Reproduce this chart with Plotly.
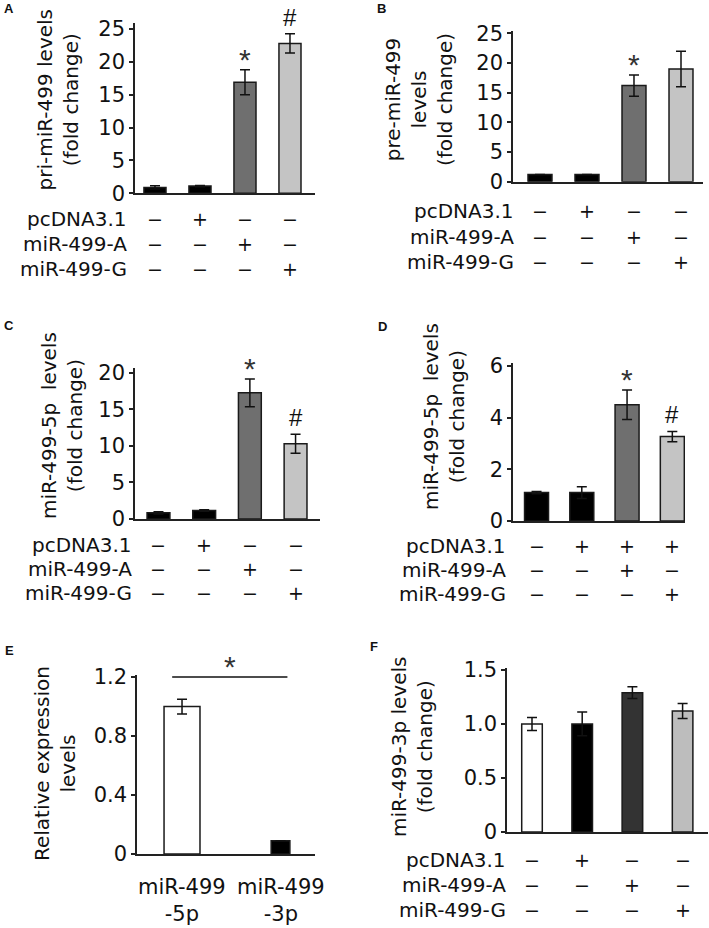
import plotly.graph_objects as go

W, H = 709, 928
FONT = "DejaVu Sans, Liberation Sans, Arial, sans-serif"
STAR_FONT = "Liberation Sans, Arial, sans-serif"
INK = "#111111"

# ---------------- data ----------------
row_labels = ["pcDNA3.1", "miR-499-A", "miR-499-G"]

# Panel A: pri-miR-499
a_vals = [0.9, 1.1, 16.9, 22.8]
a_err = [0.25, 0.1, 1.9, 1.45]
a_ticks = [0, 5, 10, 15, 20, 25]
a_signs = [["−", "+", "−", "−"], ["−", "−", "+", "−"], ["−", "−", "−", "+"]]
a_marks = ["", "", "*", "#"]

# Panel B: pre-miR-499
b_vals = [1.2, 1.2, 16.2, 19.0]
b_err = [0.0, 0.0, 1.8, 3.0]
b_ticks = [0, 5, 10, 15, 20, 25]
b_signs = [["−", "+", "−", "−"], ["−", "−", "+", "−"], ["−", "−", "−", "+"]]
b_marks = ["", "", "*", ""]

# Panel C: miR-499-5p
c_vals = [0.85, 1.15, 17.25, 10.3]
c_err = [0.15, 0.1, 1.9, 1.3]
c_ticks = [0, 5, 10, 15, 20]
c_signs = [["−", "+", "−", "−"], ["−", "−", "+", "−"], ["−", "−", "−", "+"]]
c_marks = ["", "", "*", "#"]

# Panel D: miR-499-5p (with pcDNA3.1 background)
d_vals = [1.1, 1.1, 4.5, 3.27]
d_err = [0.04, 0.23, 0.57, 0.2]
d_ticks = [0, 2, 4, 6]
d_signs = [["−", "+", "+", "+"], ["−", "−", "+", "−"], ["−", "−", "−", "+"]]
d_marks = ["", "", "*", "#"]

# Panel E: relative expression 5p vs 3p
e_cats = ["miR-499<br>-5p", "miR-499<br>-3p"]
e_vals = [1.0, 0.09]
e_err = [0.05, 0.0]
e_ticks = [0, 0.4, 0.8, 1.2]
e_ticktext = ["0", "0.4", "0.8", "1.2"]
e_sig_level = 1.2

# Panel F: miR-499-3p
f_vals = [1.0, 1.0, 1.29, 1.12]
f_err = [0.06, 0.11, 0.055, 0.07]
f_ticks = [0, 0.5, 1.0, 1.5]
f_ticktext = ["0", "0.5", "1.0", "1.5"]
f_signs = [["−", "+", "−", "−"], ["−", "−", "+", "−"], ["−", "−", "−", "+"]]

# ---------------- styles / layout geometry (pixels) ----------------
gray4 = ["#000000", "#000000", "#6f6f6f", "#c4c4c4"]
f_colors = ["#ffffff", "#000000", "#333333", "#bdbdbd"]
e_colors = ["#ffffff", "#000000"]

panels = [
    dict(key="A", vals=a_vals, err=a_err, ticks=a_ticks, ticktext=None, colors=gray4,
         px=(135, 315), py=(193.3, 23), yr=25.9, xr=(-0.444, 3.556), bw=0.49,
         title="pri-miR-499 levels<br>(fold change)", tpos=(57.5, 100),
         signs=a_signs, marks=a_marks, rows=(219, 244, 269), rx=128, lab=(9, 9)),
    dict(key="B", vals=b_vals, err=b_err, ticks=b_ticks, ticktext=None, colors=gray4,
         px=(513, 703), py=(181.7, 31), yr=25.4, xr=(-0.574, 3.468), bw=0.51,
         title="pre-miR-499<br>levels<br>(fold change)", tpos=(419, 100),
         signs=b_signs, marks=b_marks, rows=(211, 237, 262), rx=515, lab=(381, 9)),
    dict(key="C", vals=c_vals, err=c_err, ticks=c_ticks, ticktext=None, colors=gray4,
         px=(135, 320), py=(519, 368), yr=20.65, xr=(-0.514, 3.535), bw=0.5,
         title="miR-499-5p  levels<br>(fold change)", tpos=(62, 426),
         signs=c_signs, marks=c_marks, rows=(545, 569, 593), rx=133, lab=(9, 325)),
    dict(key="D", vals=d_vals, err=d_err, ticks=d_ticks, ticktext=None, colors=gray4,
         px=(513, 685), py=(521, 363), yr=6.12, xr=(-0.52, 3.28), bw=0.53,
         title="miR-499-5p  levels<br>(fold change)", tpos=(444, 417),
         signs=d_signs, marks=d_marks, rows=(546, 570, 594), rx=507, lab=(382, 327)),
    dict(key="E", vals=e_vals, err=e_err, ticks=e_ticks, ticktext=e_ticktext, colors=e_colors,
         px=(137, 315), py=(854, 675), yr=1.214, xr=(-0.457, 1.35), bw=[0.365, 0.19],
         title="Relative expression<br>levels", tpos=(55, 764),
         signs=None, marks=None, rows=None, rx=None, lab=(9, 650)),
    dict(key="F", vals=f_vals, err=f_err, ticks=f_ticks, ticktext=f_ticktext, colors=f_colors,
         px=(507, 708), py=(832, 668), yr=1.518, xr=(-0.498, 3.506), bw=0.41,
         title="miR-499-3p levels<br>(fold change)", tpos=(412, 747),
         signs=f_signs, marks=None, rows=(860, 885, 910), rx=507, lab=(374, 646)),
]

def px2x(p):
    return p / W

def py2y(p):
    return 1 - p / H

fig = go.Figure()
annotations = []
shapes = []
layout = {}

for i, p in enumerate(panels, start=1):
    xa = "x" if i == 1 else f"x{i}"
    ya = "y" if i == 1 else f"y{i}"
    xkey = "xaxis" if i == 1 else f"xaxis{i}"
    ykey = "yaxis" if i == 1 else f"yaxis{i}"
    n = len(p["vals"])
    xs = list(range(n))
    fig.add_trace(go.Bar(
        x=xs, y=p["vals"], width=p["bw"], xaxis=xa, yaxis=ya,
        marker=dict(color=p["colors"], line=dict(color="#1a1a1a", width=1.5)),
        error_y=dict(type="data", array=p["err"], visible=True, color=INK,
                     thickness=1.5, width=5),
        hoverinfo="skip",
    ))
    layout[xkey] = dict(
        domain=[px2x(p["px"][0]), px2x(p["px"][1])], anchor=ya, automargin=False,
        range=list(p["xr"]), showline=True, linecolor="#222", linewidth=1.5,
        ticks="", showticklabels=False, showgrid=False, zeroline=False, fixedrange=True,
    )
    yax = dict(
        domain=[py2y(p["py"][0]), py2y(p["py"][1])], anchor=xa, automargin=False,
        range=[0, p["yr"]], showline=True, linecolor="#222", linewidth=1.5,
        ticks="outside", ticklen=4, tickwidth=1.5, tickcolor="#222",
        tickvals=p["ticks"], tickfont=dict(family=FONT, size=21, color=INK),
        showgrid=False, zeroline=False, fixedrange=True,
    )
    if p["ticktext"] is not None:
        yax["ticktext"] = p["ticktext"]
    layout[ykey] = yax

    # y title
    annotations.append(dict(
        text=p["title"], textangle=-90, xref="paper", yref="paper",
        x=px2x(p["tpos"][0]), y=py2y(p["tpos"][1]), xanchor="center", yanchor="middle",
        showarrow=False, borderpad=0, font=dict(family=FONT, size=20, color=INK),
    ))
    # panel letter
    annotations.append(dict(
        text=f"<b>{p['key']}</b>", xref="paper", yref="paper",
        x=px2x(p["lab"][0]), y=py2y(p["lab"][1]), xanchor="center", yanchor="middle",
        showarrow=False, font=dict(family=STAR_FONT, size=13, color=INK),
    ))
    # treatment table
    if p["signs"] is not None:
        for r, lab in enumerate(row_labels):
            yy = py2y(p["rows"][r])
            annotations.append(dict(
                text=lab, xref="paper", yref="paper", x=px2x(p["rx"]), y=yy,
                xanchor="right", yanchor="middle", showarrow=False, borderpad=0,
                font=dict(family=FONT, size=20, color=INK),
            ))
            for g, s in enumerate(p["signs"][r]):
                annotations.append(dict(
                    text=s, xref=xa, yref="paper", x=g, y=yy,
                    xanchor="center", yanchor="middle", showarrow=False, borderpad=0,
                    font=dict(family=FONT, size=19, color=INK),
                ))
    # significance marks
    if p["marks"] is not None:
        for g, m in enumerate(p["marks"]):
            if not m:
                continue
            top = p["vals"][g] + p["err"][g]
            if m == "*":
                annotations.append(dict(
                    text="*", xref=xa, yref=ya, x=g, y=top, xanchor="center",
                    yanchor="bottom", yshift=-8, showarrow=False,
                    font=dict(family=STAR_FONT, size=30, color="#333"),
                ))
            else:
                annotations.append(dict(
                    text="#", xref=xa, yref=ya, x=g, y=top, xanchor="center",
                    yanchor="bottom", yshift=1, showarrow=False,
                    font=dict(family=STAR_FONT, size=24, color=INK),
                ))

# Panel E extras: category labels and significance bracket
for g, lab in enumerate(e_cats):
    annotations.append(dict(
        text=lab, xref="x5", yref="paper", x=g, y=py2y(900), xanchor="center",
        yanchor="middle", showarrow=False, font=dict(family=FONT, size=21, color=INK),
    ))
shapes.append(dict(type="line", xref="x5", yref="y5", x0=-0.1, x1=1.07,
                   y0=e_sig_level, y1=e_sig_level, line=dict(color=INK, width=1.5)))
annotations.append(dict(
    text="*", xref="x5", yref="y5", x=0.485, y=e_sig_level, xanchor="center",
    yanchor="bottom", yshift=-8, showarrow=False, font=dict(family=STAR_FONT, size=30, color="#333"),
))

fig.update_layout(
    template="none",
    width=W, height=H, margin=dict(l=0, r=0, t=0, b=0, pad=0), autosize=False,
    paper_bgcolor="white", plot_bgcolor="white", showlegend=False,
    annotations=annotations, shapes=shapes, **layout,
)

page_fix = (
    "document.documentElement.style.margin='0';"
    "document.body.style.margin='0';"
    "document.body.style.overflow='hidden';"
    "document.documentElement.style.overflow='hidden';"
)
fig.write_html("out.html", config={"displayModeBar": False}, post_script=page_fix)
